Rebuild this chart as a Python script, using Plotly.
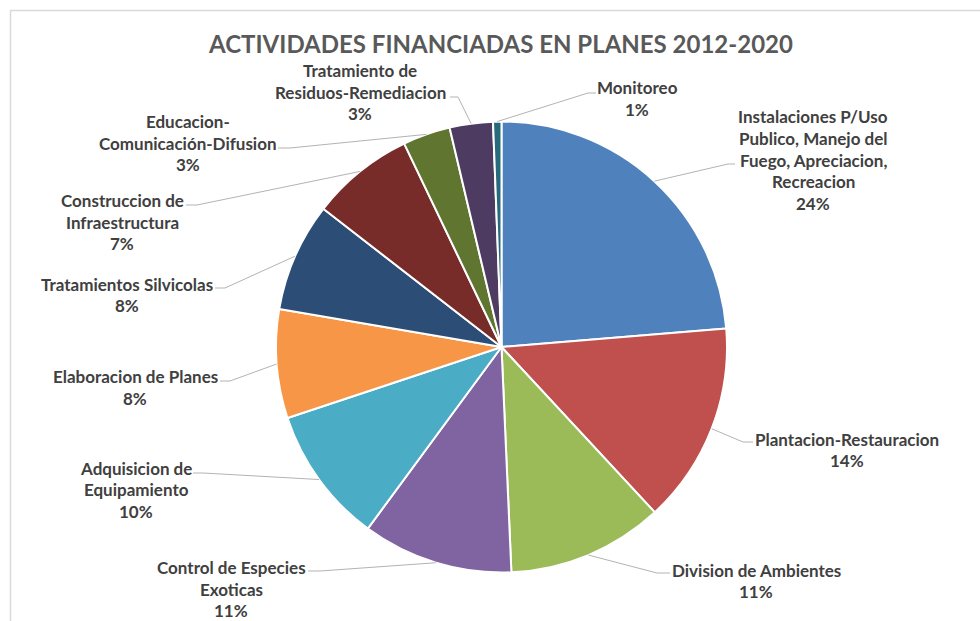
import math
import plotly.graph_objects as go

W, H = 980, 621

# ---- data ----
categories = [
    "Instalaciones P/Uso Publico, Manejo del Fuego, Apreciacion, Recreacion",
    "Plantacion-Restauracion",
    "Division de Ambientes",
    "Control de Especies Exoticas",
    "Adquisicion de Equipamiento",
    "Elaboracion de Planes",
    "Tratamientos Silvicolas",
    "Construccion de Infraestructura",
    "Educacion-Comunicación-Difusion",
    "Tratamiento de Residuos-Remediacion",
    "Monitoreo",
]
values = [23.7, 14.4, 11.2, 10.8, 9.8, 7.8, 7.8, 7.4, 3.4, 3.1, 0.6]
wrapped_labels = [
    "Instalaciones P/Uso<br>Publico, Manejo del<br>Fuego, Apreciacion,<br>Recreacion",
    "Plantacion-Restauracion",
    "Division de Ambientes",
    "Control de Especies<br>Exoticas",
    "Adquisicion de<br>Equipamiento",
    "Elaboracion de Planes",
    "Tratamientos Silvicolas",
    "Construccion de<br>Infraestructura",
    "Educacion-<br>Comunicación-Difusion",
    "Tratamiento de<br>Residuos-Remediacion",
    "Monitoreo",
]
title_text = "ACTIVIDADES FINANCIADAS EN PLANES 2012-2020"

# ---- style ----
colors = ["#4F81BD", "#C0504D", "#9BBB59", "#8064A2", "#4BACC6", "#F79646",
          "#2C4D75", "#772C2A", "#5F7530", "#4D3B62", "#276A7C"]
# label block centre (px), leader elbow (px), leader tail x (px)
label_pos = [(813, 160), (847, 450), (756, 581), (231, 589), (136, 490), (135, 387.5),
             (127, 295), (122, 222), (188, 143), (360, 92), (637, 98.5)]
elbows = [(728, 164), (743, 442), (657, 573), (320, 571), (203, 473), (230, 381),
          (225, 288), (197, 205), (290, 148), (458, 97), (588, 93)]
tails = [735, 753, 670, 308, 193, 220, 215, 186, 278, 450, 596]

CX, CY, R = 501.5, 347, 225.5
FONT = "Lato"
LBL_SIZE = 17
LH = 21.8
TXT = "#404040"
LINE_C = "#B3B3B3"


def px(x):
    return x / W


def py(y):
    return 1 - y / H


fig = go.Figure(go.Pie(
    labels=categories, values=values, sort=False, direction="clockwise", rotation=0,
    marker=dict(colors=colors, line=dict(color="white", width=2)),
    textinfo="none", hoverinfo="label+percent", showlegend=False,
    domain=dict(x=[px(CX - R), px(CX + R)], y=[py(CY + R), py(CY - R)]),
))

annotations = []
shapes = []
total = sum(values)
cum = 0.0
for i, v in enumerate(values):
    mid = (cum + v / 2) / total * 2 * math.pi
    cum += v
    ex_, ey_ = CX + R * math.sin(mid), CY - R * math.cos(mid)
    bx, by = elbows[i]
    tx = tails[i]
    shapes.append(dict(
        type="path", xref="paper", yref="paper",
        path=f"M {px(ex_)} {py(ey_)} L {px(bx)} {py(by)} L {px(tx)} {py(by)}",
        line=dict(color=LINE_C, width=1),
    ))
    lines = wrapped_labels[i].split("<br>") + [f"{round(100 * v / total)}%"]
    n = len(lines)
    cx, cy = label_pos[i]
    for j, t in enumerate(lines):
        yy = cy + (j - (n - 1) / 2) * LH
        annotations.append(dict(
            text=f"<b>{t}</b>", x=px(cx), y=py(yy), xref="paper", yref="paper",
            xanchor="center", yanchor="middle", showarrow=False,
            font=dict(family=FONT, size=LBL_SIZE, color=TXT),
        ))

# chart-area border (left and top visible)
shapes.append(dict(type="rect", xref="paper", yref="paper",
                   x0=px(10.5), y0=py(10.5), x1=1.05, y1=-0.05,
                   line=dict(color="#D9D9D9", width=1.5), layer="below"))

fig.update_layout(
    width=W, height=H,
    margin=dict(l=0, r=0, t=0, b=0),
    paper_bgcolor="white", plot_bgcolor="white",
    title=dict(text=f"<b>{title_text}</b>", x=px(501), y=py(45),
               xanchor="center", yanchor="middle",
               font=dict(family=FONT, size=24, color="#595959")),
    annotations=annotations, shapes=shapes,
)

fig.write_html("out.html", config={"displayModeBar": False},
               post_script="document.body.style.margin='0';document.body.style.overflow='hidden';")
